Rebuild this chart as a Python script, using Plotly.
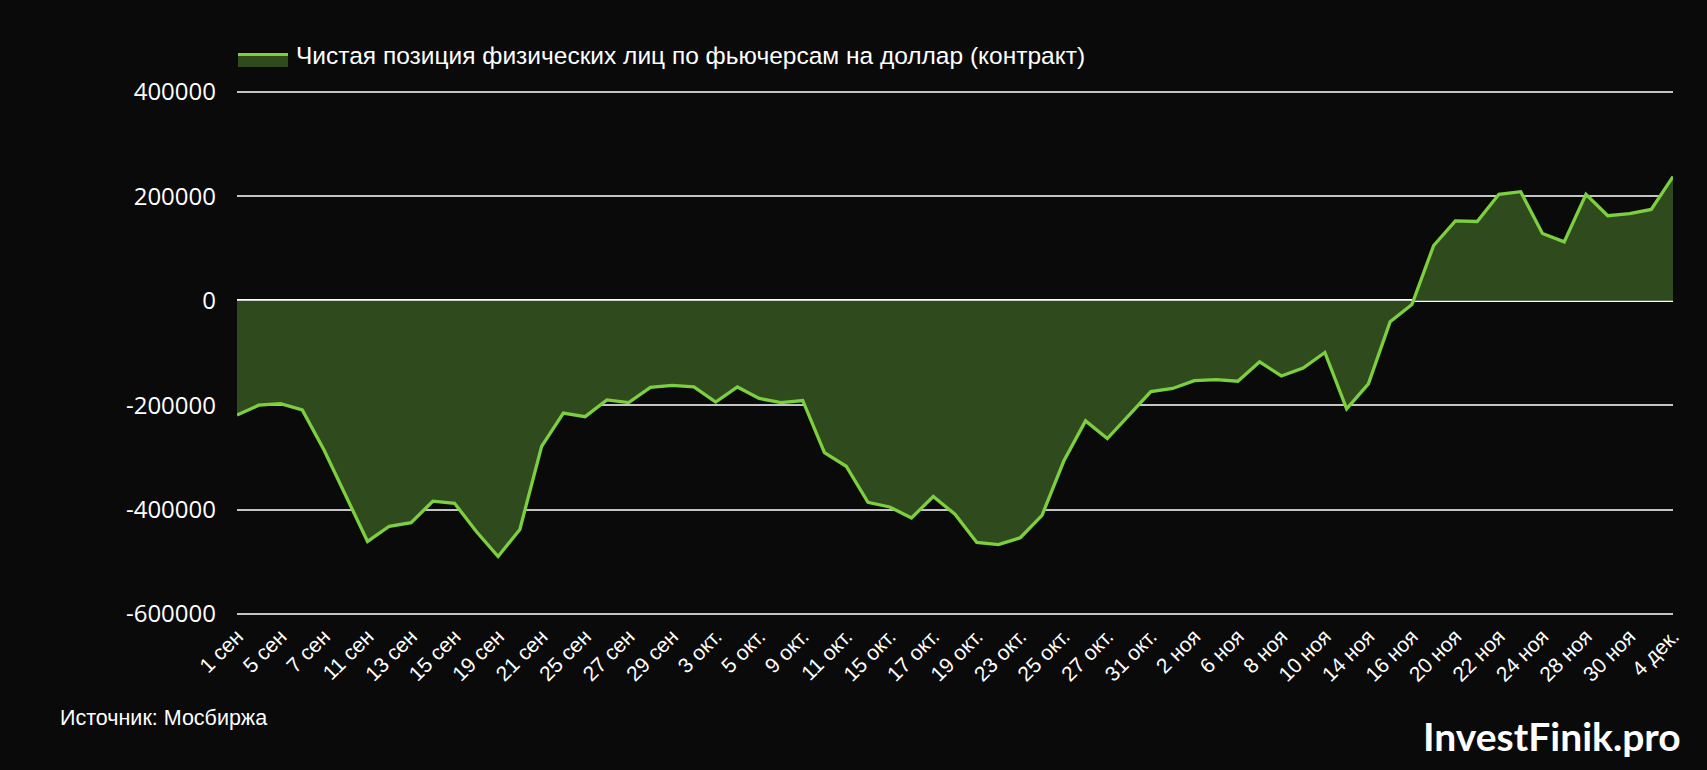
import plotly.graph_objects as go

dates = ["1 сен", "4 сен", "5 сен", "6 сен", "7 сен", "8 сен", "11 сен", "12 сен", "13 сен", "14 сен",
         "15 сен", "18 сен", "19 сен", "20 сен", "21 сен", "22 сен", "25 сен", "26 сен", "27 сен", "28 сен",
         "29 сен", "2 окт.", "3 окт.", "4 окт.", "5 окт.", "6 окт.", "9 окт.", "10 окт.", "11 окт.", "13 окт.",
         "15 окт.", "16 окт.", "17 окт.", "18 окт.", "19 окт.", "20 окт.", "23 окт.", "24 окт.", "25 окт.", "26 окт.",
         "27 окт.", "30 окт.", "31 окт.", "1 ноя", "2 ноя", "3 ноя", "6 ноя", "7 ноя", "8 ноя", "9 ноя",
         "10 ноя", "13 ноя", "14 ноя", "15 ноя", "16 ноя", "17 ноя", "20 ноя", "21 ноя", "22 ноя", "23 ноя",
         "24 ноя", "27 ноя", "28 ноя", "29 ноя", "30 ноя", "1 дек.", "4 дек."]

net_position = [-219000, -200000, -197000, -209000, -286000, -372000, -461000, -432000, -425000, -384000,
                -388000, -442000, -490000, -438000, -279000, -215000, -222000, -190000, -195000, -166000,
                -162000, -165000, -194000, -165000, -187000, -195000, -191000, -291000, -317000, -386000,
                -395000, -416000, -375000, -409000, -463000, -467000, -454000, -411000, -307000, -230000,
                -264000, -219000, -174000, -168000, -153000, -151000, -154000, -117000, -144000, -129000,
                -99000, -207000, -159000, -40000, -7000, 106000, 153000, 152000, 204000, 209000,
                129000, 113000, 204000, 163000, 167000, 175000, 238000]

tick_labels = dates[::2]
y_ticks = [-600000, -400000, -200000, 0, 200000, 400000]

series_name = "Чистая позиция физических лиц по фьючерсам на доллар (контракт)"
source_text = "Источник: Мосбиржа"
brand_text = "InvestFinik.pro"

LINE = "#7ccf3f"
FILL = "#2f4a1c"
BG = "#0a0a0a"

W, H = 1707, 770
L, R, T, B = 237, 34, 91, 155
PW, PH = W - L - R, H - T - B


def px(x):
    return (x - L) / PW


def py(y):
    return (H - B - y) / PH


fig = go.Figure()
fig.add_trace(go.Scatter(
    x=dates, y=net_position, mode="lines", name=series_name,
    line=dict(color=LINE, width=3.3),
    fill="tozeroy", fillcolor=FILL, showlegend=False,
))

fig.update_layout(
    width=W, height=H,
    paper_bgcolor=BG, plot_bgcolor=BG,
    margin=dict(l=L, r=R, t=T, b=B),
    showlegend=False,
    font=dict(family="Liberation Sans, Arial", color="#ffffff"),
    xaxis=dict(
        type="category", range=[0, len(dates) - 1],
        tickmode="array", tickvals=tick_labels, ticktext=tick_labels,
        tickangle=-45, tickfont=dict(family="Liberation Sans, Arial", size=21, color="#ffffff"),
        showgrid=False, zeroline=False, showline=False, ticks="", ticklabelstandoff=4,
    ),
    yaxis=dict(
        range=[-602000, 402000], tickmode="array", tickvals=y_ticks,
        ticktext=[str(v) for v in y_ticks],
        tickfont=dict(family="Open Sans", size=24, color="#ffffff"),
        showgrid=True, gridcolor="#c4c4c4", gridwidth=1.6,
        zeroline=True, zerolinecolor="#ffffff", zerolinewidth=2.5,
        showline=False, ticks="", ticklabelstandoff=20,
    ),
    shapes=[
        dict(type="rect", xref="paper", yref="paper",
             x0=px(238), x1=px(288), y0=py(67), y1=py(53),
             fillcolor=FILL, line=dict(width=0)),
        dict(type="line", xref="paper", yref="paper",
             x0=px(238), x1=px(288), y0=py(54.5), y1=py(54.5),
             line=dict(color=LINE, width=3)),
    ],
    annotations=[
        dict(text=series_name, xref="paper", yref="paper",
             x=px(294), y=py(55), xanchor="left", yanchor="middle",
             showarrow=False, font=dict(family="Liberation Sans, Arial", size=24.5, color="#ffffff")),
        dict(text=source_text, xref="paper", yref="paper",
             x=px(58), y=py(718), xanchor="left", yanchor="middle",
             showarrow=False, font=dict(family="Liberation Sans, Arial", size=21.5, color="#ffffff")),
        dict(text="<b>" + brand_text + "</b>", xref="paper", yref="paper",
             x=px(1552), y=py(736), xanchor="center", yanchor="middle",
             showarrow=False, font=dict(family="Lato", size=39, color="#ffffff")),
    ],
)

fig.write_html("out.html", config={"displayModeBar": False},
               post_script="document.body.style.margin='0';document.body.style.overflow='hidden';")
